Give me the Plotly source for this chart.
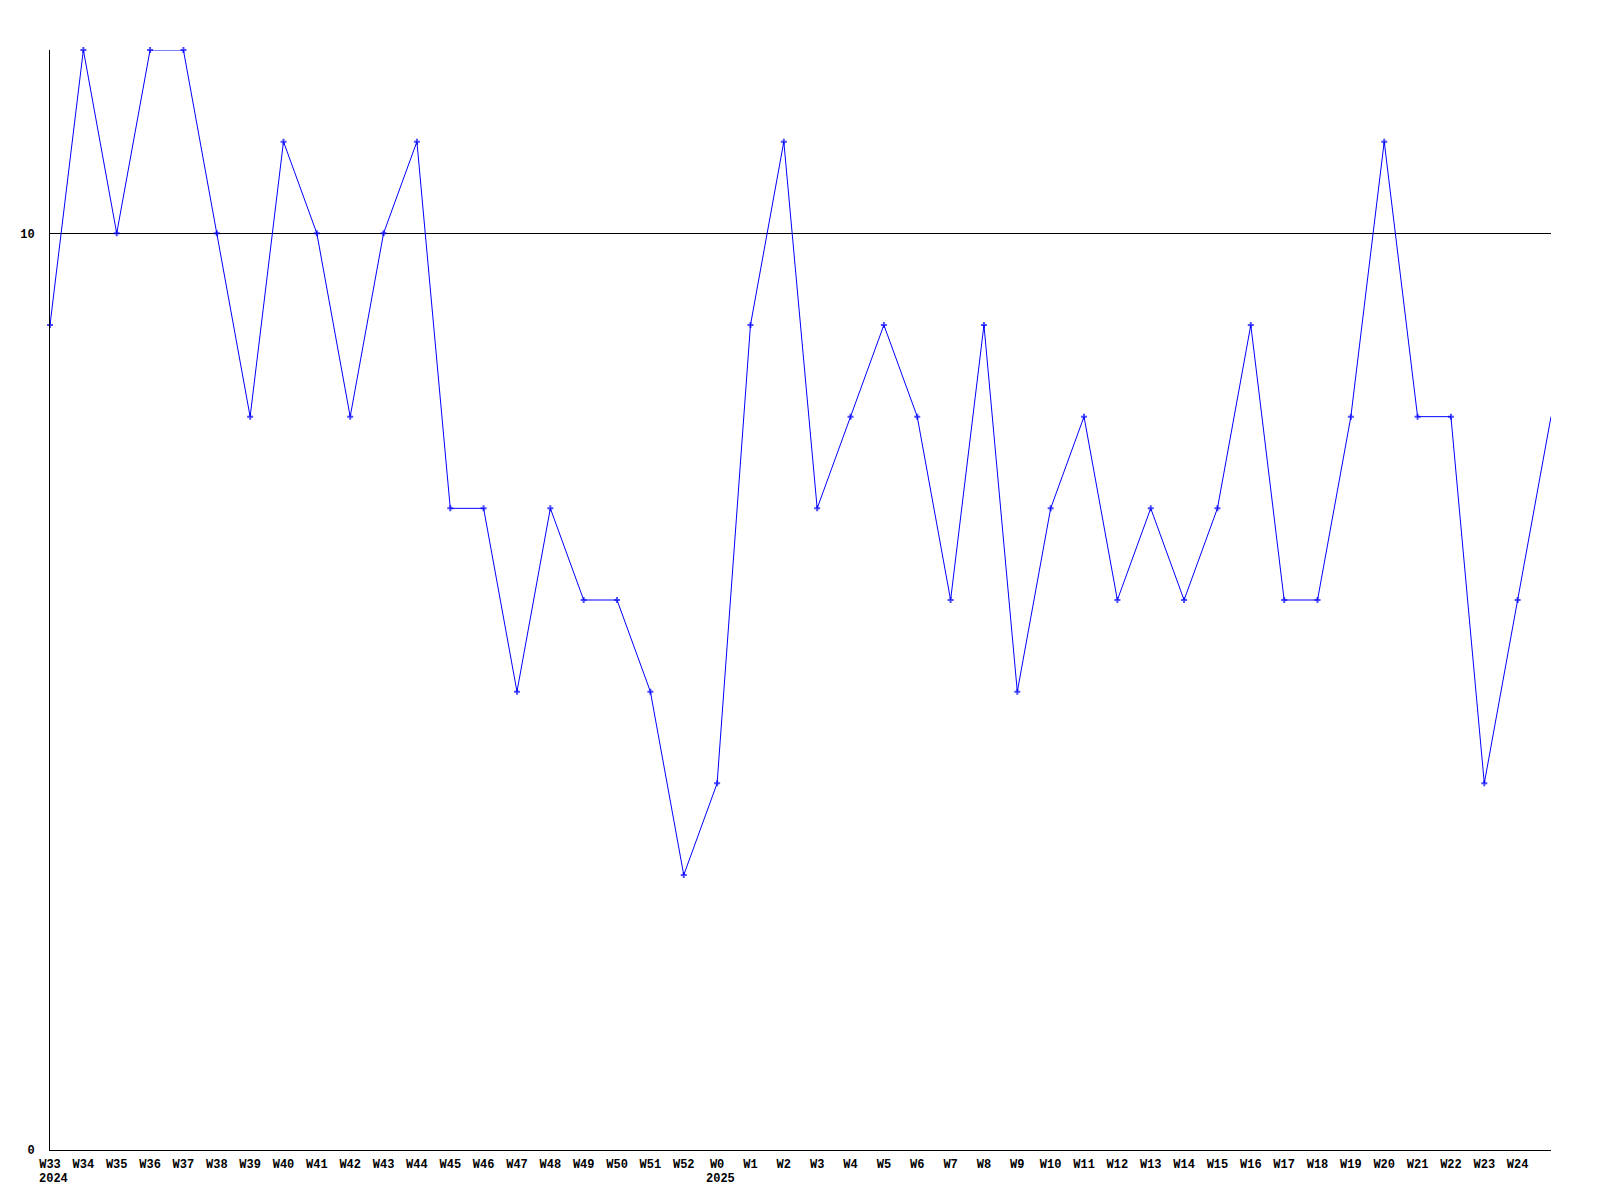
import plotly.graph_objects as go

weeks = ["W33", "W34", "W35", "W36", "W37", "W38", "W39", "W40", "W41", "W42",
         "W43", "W44", "W45", "W46", "W47", "W48", "W49", "W50", "W51", "W52",
         "W0", "W1", "W2", "W3", "W4", "W5", "W6", "W7", "W8", "W9", "W10",
         "W11", "W12", "W13", "W14", "W15", "W16", "W17", "W18", "W19", "W20",
         "W21", "W22", "W23", "W24", ""]
values = [9, 12, 10, 12, 12, 10, 8, 11, 10, 8,
          10, 11, 7, 7, 5, 7, 6, 6, 5, 3,
          4, 9, 11, 7, 8, 9, 8, 6, 9, 5, 7,
          8, 6, 7, 6, 7, 9, 6, 6, 8, 11,
          8, 8, 4, 6, 8]
year_labels = {"W33": "2024", "W0": "2025"}
y_ticks = [0, 10]

x = list(range(len(values)))
marker_sizes = [5] * (len(values) - 1) + [0]

fig = go.Figure()
fig.add_trace(go.Scatter(
    x=x, y=values, mode="lines+markers",
    line=dict(color="#0000ff", width=1),
    marker=dict(symbol="cross", size=marker_sizes, color="#0000ff",
                line=dict(width=0)),
    cliponaxis=False,
    showlegend=False, hoverinfo="skip",
))

font = dict(family="Liberation Mono", size=12, color="black", weight="bold")

for i, w in enumerate(weeks):
    if w in year_labels:
        fig.add_annotation(x=i, y=0, yref="y", xref="x", text=year_labels[w],
                           showarrow=False, xanchor="left", yanchor="top",
                           xshift=-13, yshift=-20, font=font)

fig.update_layout(
    width=1600, height=1200,
    margin=dict(l=50, r=49, t=50, b=50),
    paper_bgcolor="white", plot_bgcolor="white",
    xaxis=dict(range=[0, len(values) - 1], tickmode="array",
               tickvals=x[:-1], ticktext=weeks[:-1],
               showgrid=False, zeroline=False, showline=True,
               linecolor="black", linewidth=1, ticks="",
               tickfont=font, ticklabelstandoff=3),
    yaxis=dict(range=[0, 12], tickmode="array", tickvals=y_ticks,
               ticktext=[str(v) for v in y_ticks],
               showgrid=True, gridcolor="black", gridwidth=1,
               zeroline=False, showline=True, linecolor="black", linewidth=1,
               ticks="", tickfont=font, ticklabelstandoff=12),
)

fig.write_html("out.html", config={"displayModeBar": False},
               post_script="document.body.style.margin='0';document.body.style.padding='0';")
